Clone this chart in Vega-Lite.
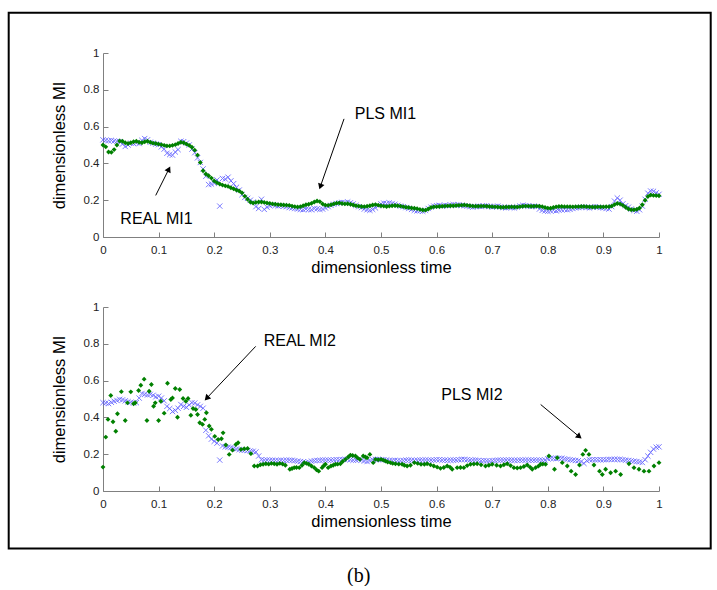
{
  "$schema": "https://vega.github.io/schema/vega-lite/v6.json",
  "background": "white",
  "padding": {"left": 7, "top": 11, "right": 0, "bottom": 0},
  "autosize": {"type": "pad"},
  "bounds": "flush",
  "spacing": 70,
  "config": {
    "view": {"stroke": null},
    "font": "Liberation Sans",
    "axis": {"grid": false, "domainColor": "#808080", "tickColor": "#808080", "tickSize": -5, "labelFont": "Liberation Sans", "labelFontSize": 11.5, "labelColor": "#222222", "titleFont": "Liberation Sans", "titleFontSize": 16.5, "titleFontWeight": "normal", "titleColor": "black", "labelFlush": false, "labelOverlap": false},
    "axisX": {"labelPadding": 12, "titlePadding": 4},
    "axisY": {"labelPadding": 9, "titlePadding": 16}
  },
  "datasets": {
    "border": [{"t": -0.1696, "v": -1.6936, "t2": 1.093, "v2": 1.2186}],
    "caption": [{"t": 0.46, "v": -0.461, "label": "(b)"}],
    "ann1": [{"label": "PLS MI1", "t": 0.508, "v": 0.671}, {"label": "REAL MI1", "t": 0.0962, "v": 0.0998}],
    "arr1": [{"label": "PLS MI1", "t": 0.4335, "v": 0.642, "t2": 0.3909, "v2": 0.274}, {"label": "REAL MI1", "t": 0.0948, "v": 0.226, "t2": 0.1185, "v2": 0.369}],
    "head1": [{"label": "PLS MI1", "t": 0.3909, "v": 0.274}, {"label": "REAL MI1", "t": 0.1185, "v": 0.369}],
    "ann2": [{"label": "REAL MI2", "t": 0.354, "v": 0.813}, {"label": "PLS MI2", "t": 0.6635, "v": 0.52}],
    "arr2": [{"label": "REAL MI2", "t": 0.2746, "v": 0.786, "t2": 0.1865, "v2": 0.504}, {"label": "PLS MI2", "t": 0.7872, "v": 0.47, "t2": 0.8567, "v2": 0.295}],
    "head2": [{"label": "REAL MI2", "t": 0.1865, "v": 0.504}, {"label": "PLS MI2", "t": 0.8567, "v": 0.295}],
    "pls1": [
      {"t":0,"v":0.5},{"t":0.005,"v":0.49},{"t":0.01,"v":0.462},{"t":0.015,"v":0.46},{"t":0.02,"v":0.475},{"t":0.025,"v":0.5},{"t":0.03,"v":0.522},{"t":0.035,"v":0.52},{"t":0.04,"v":0.512},{"t":0.045,"v":0.508},
      {"t":0.05,"v":0.512},{"t":0.055,"v":0.518},{"t":0.06,"v":0.52},{"t":0.065,"v":0.515},{"t":0.07,"v":0.512},{"t":0.075,"v":0.518},{"t":0.08,"v":0.52},{"t":0.085,"v":0.515},{"t":0.09,"v":0.51},{"t":0.095,"v":0.508},
      {"t":0.1,"v":0.505},{"t":0.105,"v":0.502},{"t":0.11,"v":0.498},{"t":0.115,"v":0.495},{"t":0.12,"v":0.495},{"t":0.125,"v":0.498},{"t":0.13,"v":0.502},{"t":0.135,"v":0.508},{"t":0.14,"v":0.515},{"t":0.145,"v":0.512},
      {"t":0.15,"v":0.505},{"t":0.155,"v":0.498},{"t":0.16,"v":0.488},{"t":0.165,"v":0.472},{"t":0.17,"v":0.445},{"t":0.175,"v":0.405},{"t":0.18,"v":0.36},{"t":0.185,"v":0.342},{"t":0.19,"v":0.333},{"t":0.195,"v":0.32},
      {"t":0.2,"v":0.305},{"t":0.205,"v":0.295},{"t":0.21,"v":0.288},{"t":0.215,"v":0.282},{"t":0.22,"v":0.278},{"t":0.225,"v":0.275},{"t":0.23,"v":0.268},{"t":0.235,"v":0.262},{"t":0.24,"v":0.255},{"t":0.245,"v":0.25},
      {"t":0.25,"v":0.24},{"t":0.255,"v":0.222},{"t":0.26,"v":0.205},{"t":0.265,"v":0.19},{"t":0.27,"v":0.185},{"t":0.275,"v":0.188},{"t":0.28,"v":0.19},{"t":0.285,"v":0.19},{"t":0.29,"v":0.188},{"t":0.295,"v":0.185},
      {"t":0.3,"v":0.183},{"t":0.305,"v":0.18},{"t":0.31,"v":0.178},{"t":0.315,"v":0.176},{"t":0.32,"v":0.175},{"t":0.325,"v":0.174},{"t":0.33,"v":0.173},{"t":0.335,"v":0.172},{"t":0.34,"v":0.168},{"t":0.345,"v":0.165},
      {"t":0.35,"v":0.163},{"t":0.355,"v":0.165},{"t":0.36,"v":0.17},{"t":0.365,"v":0.175},{"t":0.37,"v":0.178},{"t":0.375,"v":0.183},{"t":0.38,"v":0.19},{"t":0.385,"v":0.196},{"t":0.39,"v":0.192},{"t":0.395,"v":0.18},
      {"t":0.4,"v":0.173},{"t":0.405,"v":0.172},{"t":0.41,"v":0.175},{"t":0.415,"v":0.18},{"t":0.42,"v":0.184},{"t":0.425,"v":0.185},{"t":0.43,"v":0.182},{"t":0.435,"v":0.18},{"t":0.44,"v":0.181},{"t":0.445,"v":0.178},
      {"t":0.45,"v":0.174},{"t":0.455,"v":0.17},{"t":0.46,"v":0.168},{"t":0.465,"v":0.166},{"t":0.47,"v":0.165},{"t":0.475,"v":0.167},{"t":0.48,"v":0.17},{"t":0.485,"v":0.174},{"t":0.49,"v":0.176},{"t":0.495,"v":0.173},
      {"t":0.5,"v":0.17},{"t":0.505,"v":0.168},{"t":0.51,"v":0.166},{"t":0.515,"v":0.168},{"t":0.52,"v":0.17},{"t":0.525,"v":0.171},{"t":0.53,"v":0.17},{"t":0.535,"v":0.168},{"t":0.54,"v":0.165},{"t":0.545,"v":0.162},
      {"t":0.55,"v":0.16},{"t":0.555,"v":0.158},{"t":0.56,"v":0.156},{"t":0.565,"v":0.154},{"t":0.57,"v":0.15},{"t":0.575,"v":0.147},{"t":0.58,"v":0.146},{"t":0.585,"v":0.152},{"t":0.59,"v":0.16},{"t":0.595,"v":0.164},
      {"t":0.6,"v":0.165},{"t":0.605,"v":0.166},{"t":0.61,"v":0.167},{"t":0.615,"v":0.168},{"t":0.62,"v":0.169},{"t":0.625,"v":0.17},{"t":0.63,"v":0.17},{"t":0.635,"v":0.171},{"t":0.64,"v":0.172},{"t":0.645,"v":0.173},
      {"t":0.65,"v":0.174},{"t":0.655,"v":0.172},{"t":0.66,"v":0.17},{"t":0.665,"v":0.168},{"t":0.67,"v":0.167},{"t":0.675,"v":0.167},{"t":0.68,"v":0.168},{"t":0.685,"v":0.168},{"t":0.69,"v":0.167},{"t":0.695,"v":0.166},
      {"t":0.7,"v":0.165},{"t":0.705,"v":0.164},{"t":0.71,"v":0.163},{"t":0.715,"v":0.162},{"t":0.72,"v":0.162},{"t":0.725,"v":0.163},{"t":0.73,"v":0.163},{"t":0.735,"v":0.164},{"t":0.74,"v":0.163},{"t":0.745,"v":0.163},
      {"t":0.75,"v":0.165},{"t":0.755,"v":0.167},{"t":0.76,"v":0.168},{"t":0.765,"v":0.168},{"t":0.77,"v":0.167},{"t":0.775,"v":0.167},{"t":0.78,"v":0.168},{"t":0.785,"v":0.167},{"t":0.79,"v":0.165},{"t":0.795,"v":0.16},
      {"t":0.8,"v":0.157},{"t":0.805,"v":0.156},{"t":0.81,"v":0.16},{"t":0.815,"v":0.164},{"t":0.82,"v":0.166},{"t":0.825,"v":0.166},{"t":0.83,"v":0.165},{"t":0.835,"v":0.165},{"t":0.84,"v":0.165},{"t":0.845,"v":0.164},
      {"t":0.85,"v":0.165},{"t":0.855,"v":0.165},{"t":0.86,"v":0.166},{"t":0.865,"v":0.166},{"t":0.87,"v":0.165},{"t":0.875,"v":0.164},{"t":0.88,"v":0.163},{"t":0.885,"v":0.163},{"t":0.89,"v":0.164},{"t":0.895,"v":0.164},
      {"t":0.9,"v":0.164},{"t":0.905,"v":0.165},{"t":0.91,"v":0.165},{"t":0.915,"v":0.168},{"t":0.92,"v":0.176},{"t":0.925,"v":0.182},{"t":0.93,"v":0.18},{"t":0.935,"v":0.172},{"t":0.94,"v":0.162},{"t":0.945,"v":0.152},
      {"t":0.95,"v":0.148},{"t":0.955,"v":0.148},{"t":0.96,"v":0.15},{"t":0.965,"v":0.158},{"t":0.97,"v":0.175},{"t":0.975,"v":0.2},{"t":0.98,"v":0.22},{"t":0.985,"v":0.228},{"t":0.99,"v":0.226},{"t":0.995,"v":0.225},{"t":1,"v":0.224}
    ],
    "real1": [
      {"t":0,"v":0.528},{"t":0.005,"v":0.525},{"t":0.01,"v":0.523},{"t":0.015,"v":0.525},{"t":0.02,"v":0.522},{"t":0.025,"v":0.52},{"t":0.03,"v":0.518},{"t":0.035,"v":0.505},{"t":0.04,"v":0.492},{"t":0.045,"v":0.5},
      {"t":0.05,"v":0.51},{"t":0.055,"v":0.508},{"t":0.06,"v":0.512},{"t":0.065,"v":0.508},{"t":0.07,"v":0.525},{"t":0.075,"v":0.535},{"t":0.08,"v":0.528},{"t":0.085,"v":0.515},{"t":0.09,"v":0.51},{"t":0.095,"v":0.505},
      {"t":0.1,"v":0.502},{"t":0.105,"v":0.49},{"t":0.11,"v":0.478},{"t":0.115,"v":0.455},{"t":0.12,"v":0.448},{"t":0.125,"v":0.445},{"t":0.13,"v":0.462},{"t":0.135,"v":0.475},{"t":0.14,"v":0.52},{"t":0.145,"v":0.518},
      {"t":0.15,"v":0.51},{"t":0.155,"v":0.5},{"t":0.16,"v":0.478},{"t":0.165,"v":0.458},{"t":0.17,"v":0.43},{"t":0.175,"v":0.405},{"t":0.18,"v":0.37},{"t":0.185,"v":0.33},{"t":0.19,"v":0.285},{"t":0.195,"v":0.288},
      {"t":0.2,"v":0.292},{"t":0.205,"v":0.31},{"t":0.21,"v":0.168},{"t":0.215,"v":0.318},{"t":0.22,"v":0.315},{"t":0.225,"v":0.325},{"t":0.23,"v":0.305},{"t":0.235,"v":0.29},{"t":0.24,"v":0.27},{"t":0.245,"v":0.255},
      {"t":0.25,"v":0.23},{"t":0.255,"v":0.215},{"t":0.26,"v":0.21},{"t":0.265,"v":0.2},{"t":0.27,"v":0.19},{"t":0.275,"v":0.165},{"t":0.28,"v":0.155},{"t":0.285,"v":0.205},{"t":0.29,"v":0.15},{"t":0.295,"v":0.162},
      {"t":0.3,"v":0.17},{"t":0.305,"v":0.175},{"t":0.31,"v":0.172},{"t":0.315,"v":0.168},{"t":0.32,"v":0.17},{"t":0.325,"v":0.168},{"t":0.33,"v":0.165},{"t":0.335,"v":0.16},{"t":0.34,"v":0.158},{"t":0.345,"v":0.155},
      {"t":0.35,"v":0.152},{"t":0.355,"v":0.15},{"t":0.36,"v":0.148},{"t":0.365,"v":0.152},{"t":0.37,"v":0.15},{"t":0.375,"v":0.148},{"t":0.38,"v":0.155},{"t":0.385,"v":0.153},{"t":0.39,"v":0.15},{"t":0.395,"v":0.152},
      {"t":0.4,"v":0.158},{"t":0.405,"v":0.165},{"t":0.41,"v":0.172},{"t":0.415,"v":0.178},{"t":0.42,"v":0.182},{"t":0.425,"v":0.186},{"t":0.43,"v":0.188},{"t":0.435,"v":0.187},{"t":0.44,"v":0.19},{"t":0.445,"v":0.186},
      {"t":0.45,"v":0.18},{"t":0.455,"v":0.172},{"t":0.46,"v":0.165},{"t":0.465,"v":0.16},{"t":0.47,"v":0.152},{"t":0.475,"v":0.148},{"t":0.48,"v":0.145},{"t":0.485,"v":0.15},{"t":0.49,"v":0.158},{"t":0.495,"v":0.17},
      {"t":0.5,"v":0.18},{"t":0.505,"v":0.184},{"t":0.51,"v":0.182},{"t":0.515,"v":0.185},{"t":0.52,"v":0.182},{"t":0.525,"v":0.178},{"t":0.53,"v":0.172},{"t":0.535,"v":0.168},{"t":0.54,"v":0.165},{"t":0.545,"v":0.16},
      {"t":0.55,"v":0.155},{"t":0.555,"v":0.15},{"t":0.56,"v":0.145},{"t":0.565,"v":0.142},{"t":0.57,"v":0.142},{"t":0.575,"v":0.14},{"t":0.58,"v":0.145},{"t":0.585,"v":0.155},{"t":0.59,"v":0.162},{"t":0.595,"v":0.168},
      {"t":0.6,"v":0.17},{"t":0.605,"v":0.172},{"t":0.61,"v":0.168},{"t":0.615,"v":0.172},{"t":0.62,"v":0.17},{"t":0.625,"v":0.174},{"t":0.63,"v":0.176},{"t":0.635,"v":0.172},{"t":0.64,"v":0.175},{"t":0.645,"v":0.172},
      {"t":0.65,"v":0.17},{"t":0.655,"v":0.168},{"t":0.66,"v":0.165},{"t":0.665,"v":0.162},{"t":0.67,"v":0.166},{"t":0.675,"v":0.168},{"t":0.68,"v":0.165},{"t":0.685,"v":0.168},{"t":0.69,"v":0.17},{"t":0.695,"v":0.166},
      {"t":0.7,"v":0.162},{"t":0.705,"v":0.166},{"t":0.71,"v":0.168},{"t":0.715,"v":0.164},{"t":0.72,"v":0.16},{"t":0.725,"v":0.158},{"t":0.73,"v":0.162},{"t":0.735,"v":0.16},{"t":0.74,"v":0.158},{"t":0.745,"v":0.163},
      {"t":0.75,"v":0.168},{"t":0.755,"v":0.172},{"t":0.76,"v":0.17},{"t":0.765,"v":0.168},{"t":0.77,"v":0.166},{"t":0.775,"v":0.168},{"t":0.78,"v":0.165},{"t":0.785,"v":0.152},{"t":0.79,"v":0.145},{"t":0.795,"v":0.142},
      {"t":0.8,"v":0.14},{"t":0.805,"v":0.142},{"t":0.81,"v":0.145},{"t":0.815,"v":0.142},{"t":0.82,"v":0.146},{"t":0.825,"v":0.148},{"t":0.83,"v":0.15},{"t":0.835,"v":0.148},{"t":0.84,"v":0.15},{"t":0.845,"v":0.155},
      {"t":0.85,"v":0.158},{"t":0.855,"v":0.16},{"t":0.86,"v":0.162},{"t":0.865,"v":0.164},{"t":0.87,"v":0.16},{"t":0.875,"v":0.158},{"t":0.88,"v":0.162},{"t":0.885,"v":0.165},{"t":0.89,"v":0.162},{"t":0.895,"v":0.16},
      {"t":0.9,"v":0.158},{"t":0.905,"v":0.155},{"t":0.91,"v":0.152},{"t":0.915,"v":0.165},{"t":0.92,"v":0.195},{"t":0.925,"v":0.212},{"t":0.93,"v":0.2},{"t":0.935,"v":0.18},{"t":0.94,"v":0.17},{"t":0.945,"v":0.162},
      {"t":0.95,"v":0.152},{"t":0.955,"v":0.145},{"t":0.96,"v":0.14},{"t":0.965,"v":0.148},{"t":0.97,"v":0.168},{"t":0.975,"v":0.205},{"t":0.98,"v":0.238},{"t":0.985,"v":0.25},{"t":0.99,"v":0.248},{"t":0.995,"v":0.24},{"t":1,"v":0.232}
    ],
    "real2": [
      {"t":0,"v":0.48},{"t":0.005,"v":0.478},{"t":0.01,"v":0.475},{"t":0.015,"v":0.482},{"t":0.02,"v":0.488},{"t":0.025,"v":0.492},{"t":0.03,"v":0.498},{"t":0.035,"v":0.495},{"t":0.04,"v":0.49},{"t":0.045,"v":0.485},
      {"t":0.05,"v":0.482},{"t":0.055,"v":0.478},{"t":0.06,"v":0.48},{"t":0.065,"v":0.505},{"t":0.07,"v":0.53},{"t":0.075,"v":0.525},{"t":0.08,"v":0.522},{"t":0.085,"v":0.525},{"t":0.09,"v":0.52},{"t":0.095,"v":0.512},
      {"t":0.1,"v":0.515},{"t":0.105,"v":0.505},{"t":0.11,"v":0.49},{"t":0.115,"v":0.46},{"t":0.12,"v":0.448},{"t":0.125,"v":0.432},{"t":0.13,"v":0.438},{"t":0.135,"v":0.45},{"t":0.14,"v":0.47},{"t":0.145,"v":0.46},
      {"t":0.15,"v":0.455},{"t":0.155,"v":0.468},{"t":0.16,"v":0.48},{"t":0.165,"v":0.478},{"t":0.17,"v":0.468},{"t":0.175,"v":0.46},{"t":0.18,"v":0.45},{"t":0.185,"v":0.33},{"t":0.19,"v":0.3},{"t":0.195,"v":0.282},
      {"t":0.2,"v":0.27},{"t":0.205,"v":0.26},{"t":0.21,"v":0.168},{"t":0.215,"v":0.245},{"t":0.22,"v":0.24},{"t":0.225,"v":0.238},{"t":0.23,"v":0.236},{"t":0.235,"v":0.232},{"t":0.24,"v":0.228},{"t":0.245,"v":0.225},
      {"t":0.25,"v":0.222},{"t":0.255,"v":0.222},{"t":0.26,"v":0.22},{"t":0.265,"v":0.218},{"t":0.27,"v":0.216},{"t":0.275,"v":0.212},{"t":0.28,"v":0.19},{"t":0.285,"v":0.17},{"t":0.29,"v":0.168},{"t":0.295,"v":0.168},
      {"t":0.3,"v":0.167},{"t":0.305,"v":0.167},{"t":0.31,"v":0.166},{"t":0.315,"v":0.166},{"t":0.32,"v":0.167},{"t":0.325,"v":0.166},{"t":0.33,"v":0.167},{"t":0.335,"v":0.168},{"t":0.34,"v":0.167},{"t":0.345,"v":0.165},
      {"t":0.35,"v":0.162},{"t":0.355,"v":0.16},{"t":0.36,"v":0.158},{"t":0.365,"v":0.155},{"t":0.37,"v":0.157},{"t":0.375,"v":0.162},{"t":0.38,"v":0.165},{"t":0.385,"v":0.166},{"t":0.39,"v":0.167},{"t":0.395,"v":0.168},
      {"t":0.4,"v":0.168},{"t":0.405,"v":0.168},{"t":0.41,"v":0.168},{"t":0.415,"v":0.169},{"t":0.42,"v":0.17},{"t":0.425,"v":0.17},{"t":0.43,"v":0.171},{"t":0.435,"v":0.172},{"t":0.44,"v":0.172},{"t":0.445,"v":0.17},
      {"t":0.45,"v":0.168},{"t":0.455,"v":0.168},{"t":0.46,"v":0.17},{"t":0.465,"v":0.168},{"t":0.47,"v":0.163},{"t":0.475,"v":0.16},{"t":0.48,"v":0.165},{"t":0.485,"v":0.17},{"t":0.49,"v":0.172},{"t":0.495,"v":0.172},
      {"t":0.5,"v":0.17},{"t":0.505,"v":0.17},{"t":0.51,"v":0.168},{"t":0.515,"v":0.166},{"t":0.52,"v":0.166},{"t":0.525,"v":0.167},{"t":0.53,"v":0.165},{"t":0.535,"v":0.164},{"t":0.54,"v":0.166},{"t":0.545,"v":0.168},
      {"t":0.55,"v":0.168},{"t":0.555,"v":0.167},{"t":0.56,"v":0.166},{"t":0.565,"v":0.167},{"t":0.57,"v":0.168},{"t":0.575,"v":0.168},{"t":0.58,"v":0.168},{"t":0.585,"v":0.168},{"t":0.59,"v":0.168},{"t":0.595,"v":0.168},
      {"t":0.6,"v":0.17},{"t":0.605,"v":0.17},{"t":0.61,"v":0.168},{"t":0.615,"v":0.168},{"t":0.62,"v":0.167},{"t":0.625,"v":0.168},{"t":0.63,"v":0.168},{"t":0.635,"v":0.168},{"t":0.64,"v":0.17},{"t":0.645,"v":0.172},
      {"t":0.65,"v":0.172},{"t":0.655,"v":0.17},{"t":0.66,"v":0.168},{"t":0.665,"v":0.168},{"t":0.67,"v":0.168},{"t":0.675,"v":0.166},{"t":0.68,"v":0.164},{"t":0.685,"v":0.165},{"t":0.69,"v":0.164},{"t":0.695,"v":0.163},
      {"t":0.7,"v":0.165},{"t":0.705,"v":0.166},{"t":0.71,"v":0.168},{"t":0.715,"v":0.168},{"t":0.72,"v":0.168},{"t":0.725,"v":0.168},{"t":0.73,"v":0.168},{"t":0.735,"v":0.168},{"t":0.74,"v":0.167},{"t":0.745,"v":0.167},
      {"t":0.75,"v":0.168},{"t":0.755,"v":0.168},{"t":0.76,"v":0.168},{"t":0.765,"v":0.168},{"t":0.77,"v":0.168},{"t":0.775,"v":0.168},{"t":0.78,"v":0.168},{"t":0.785,"v":0.168},{"t":0.79,"v":0.167},{"t":0.795,"v":0.168},
      {"t":0.8,"v":0.175},{"t":0.805,"v":0.178},{"t":0.81,"v":0.177},{"t":0.815,"v":0.176},{"t":0.82,"v":0.178},{"t":0.825,"v":0.178},{"t":0.83,"v":0.175},{"t":0.835,"v":0.172},{"t":0.84,"v":0.17},{"t":0.845,"v":0.168},
      {"t":0.85,"v":0.166},{"t":0.855,"v":0.165},{"t":0.86,"v":0.16},{"t":0.865,"v":0.15},{"t":0.87,"v":0.165},{"t":0.875,"v":0.17},{"t":0.88,"v":0.17},{"t":0.885,"v":0.17},{"t":0.89,"v":0.17},{"t":0.895,"v":0.17},
      {"t":0.9,"v":0.17},{"t":0.905,"v":0.17},{"t":0.91,"v":0.172},{"t":0.915,"v":0.172},{"t":0.92,"v":0.172},{"t":0.925,"v":0.172},{"t":0.93,"v":0.172},{"t":0.935,"v":0.17},{"t":0.94,"v":0.168},{"t":0.945,"v":0.166},
      {"t":0.95,"v":0.164},{"t":0.955,"v":0.162},{"t":0.96,"v":0.16},{"t":0.965,"v":0.158},{"t":0.97,"v":0.155},{"t":0.975,"v":0.17},{"t":0.98,"v":0.19},{"t":0.985,"v":0.21},{"t":0.99,"v":0.228},{"t":0.995,"v":0.238},{"t":1,"v":0.24}
    ],
    "pls2": [
      {"t":0,"v":0.13},{"t":0.005,"v":0.293},{"t":0.009,"v":0.389},{"t":0.014,"v":0.519},{"t":0.018,"v":0.376},{"t":0.023,"v":0.325},{"t":0.026,"v":0.42},{"t":0.033,"v":0.54},{"t":0.04,"v":0.383},{"t":0.044,"v":0.479},
      {"t":0.05,"v":0.539},{"t":0.055,"v":0.474},{"t":0.058,"v":0.48},{"t":0.064,"v":0.546},{"t":0.068,"v":0.575},{"t":0.074,"v":0.608},{"t":0.079,"v":0.383},{"t":0.083,"v":0.542},{"t":0.087,"v":0.579},{"t":0.091,"v":0.461},
      {"t":0.094,"v":0.479},{"t":0.1,"v":0.383},{"t":0.104,"v":0.488},{"t":0.11,"v":0.423},{"t":0.116,"v":0.586},{"t":0.122,"v":0.497},{"t":0.125,"v":0.506},{"t":0.13,"v":0.557},{"t":0.134,"v":0.401},{"t":0.138,"v":0.552},
      {"t":0.144,"v":0.503},{"t":0.149,"v":0.488},{"t":0.153,"v":0.503},{"t":0.158,"v":0.412},{"t":0.162,"v":0.448},{"t":0.167,"v":0.443},{"t":0.17,"v":0.416},{"t":0.174,"v":0.371},{"t":0.179,"v":0.362},{"t":0.183,"v":0.389},
      {"t":0.186,"v":0.425},{"t":0.191,"v":0.353},{"t":0.195,"v":0.335},{"t":0.201,"v":0.297},{"t":0.207,"v":0.28},{"t":0.213,"v":0.284},{"t":0.216,"v":0.316},{"t":0.221,"v":0.25},{"t":0.227,"v":0.199},{"t":0.233,"v":0.222},
      {"t":0.239,"v":0.253},{"t":0.243,"v":0.262},{"t":0.248,"v":0.226},{"t":0.254,"v":0.23},{"t":0.26,"v":0.231},{"t":0.266,"v":0.203},{"t":0.272,"v":0.136},{"t":0.278,"v":0.136},{"t":0.283,"v":0.143},{"t":0.288,"v":0.145},
      {"t":0.293,"v":0.148},{"t":0.298,"v":0.146},{"t":0.303,"v":0.15},{"t":0.308,"v":0.148},{"t":0.313,"v":0.145},{"t":0.318,"v":0.15},{"t":0.323,"v":0.147},{"t":0.328,"v":0.14},{"t":0.336,"v":0.118},{"t":0.34,"v":0.122},
      {"t":0.344,"v":0.127},{"t":0.348,"v":0.128},{"t":0.353,"v":0.127},{"t":0.358,"v":0.14},{"t":0.362,"v":0.154},{"t":0.366,"v":0.15},{"t":0.37,"v":0.145},{"t":0.375,"v":0.136},{"t":0.38,"v":0.127},{"t":0.384,"v":0.115},
      {"t":0.388,"v":0.108},{"t":0.394,"v":0.127},{"t":0.397,"v":0.137},{"t":0.4,"v":0.145},{"t":0.405,"v":0.127},{"t":0.41,"v":0.136},{"t":0.414,"v":0.14},{"t":0.418,"v":0.145},{"t":0.422,"v":0.146},{"t":0.427,"v":0.148},
      {"t":0.431,"v":0.16},{"t":0.436,"v":0.172},{"t":0.441,"v":0.185},{"t":0.445,"v":0.195},{"t":0.449,"v":0.193},{"t":0.454,"v":0.19},{"t":0.458,"v":0.18},{"t":0.462,"v":0.172},{"t":0.468,"v":0.19},{"t":0.472,"v":0.185},
      {"t":0.475,"v":0.181},{"t":0.48,"v":0.199},{"t":0.486,"v":0.154},{"t":0.49,"v":0.172},{"t":0.495,"v":0.17},{"t":0.5,"v":0.172},{"t":0.504,"v":0.168},{"t":0.508,"v":0.163},{"t":0.512,"v":0.158},{"t":0.517,"v":0.154},
      {"t":0.521,"v":0.15},{"t":0.526,"v":0.148},{"t":0.532,"v":0.146},{"t":0.538,"v":0.145},{"t":0.542,"v":0.14},{"t":0.547,"v":0.136},{"t":0.553,"v":0.14},{"t":0.56,"v":0.154},{"t":0.566,"v":0.15},{"t":0.572,"v":0.145},
      {"t":0.578,"v":0.145},{"t":0.583,"v":0.148},{"t":0.589,"v":0.142},{"t":0.595,"v":0.136},{"t":0.601,"v":0.13},{"t":0.607,"v":0.123},{"t":0.613,"v":0.128},{"t":0.619,"v":0.136},{"t":0.624,"v":0.13},{"t":0.628,"v":0.118},
      {"t":0.637,"v":0.127},{"t":0.643,"v":0.128},{"t":0.649,"v":0.127},{"t":0.655,"v":0.138},{"t":0.661,"v":0.145},{"t":0.667,"v":0.147},{"t":0.673,"v":0.148},{"t":0.68,"v":0.142},{"t":0.688,"v":0.136},{"t":0.694,"v":0.14},
      {"t":0.7,"v":0.145},{"t":0.708,"v":0.14},{"t":0.715,"v":0.136},{"t":0.721,"v":0.143},{"t":0.727,"v":0.148},{"t":0.733,"v":0.138},{"t":0.739,"v":0.127},{"t":0.745,"v":0.125},{"t":0.751,"v":0.127},{"t":0.757,"v":0.133},
      {"t":0.763,"v":0.141},{"t":0.768,"v":0.13},{"t":0.772,"v":0.118},{"t":0.778,"v":0.127},{"t":0.783,"v":0.135},{"t":0.787,"v":0.145},{"t":0.791,"v":0.147},{"t":0.796,"v":0.145},{"t":0.802,"v":0.19},{"t":0.812,"v":0.118},
      {"t":0.817,"v":0.181},{"t":0.826,"v":0.154},{"t":0.835,"v":0.136},{"t":0.842,"v":0.108},{"t":0.85,"v":0.09},{"t":0.857,"v":0.141},{"t":0.863,"v":0.199},{"t":0.868,"v":0.221},{"t":0.874,"v":0.199},{"t":0.883,"v":0.141},
      {"t":0.893,"v":0.108},{"t":0.898,"v":0.09},{"t":0.904,"v":0.118},{"t":0.913,"v":0.099},{"t":0.922,"v":0.108},{"t":0.931,"v":0.09},{"t":0.946,"v":0.148},{"t":0.955,"v":0.127},{"t":0.964,"v":0.118},{"t":0.973,"v":0.108},
      {"t":0.982,"v":0.108},{"t":0.991,"v":0.136},{"t":1,"v":0.154}
    ]
  },
  "vconcat": [
    {
      "width": 556,
      "height": 184,
      "encoding": {
        "x": {"field": "t", "type": "quantitative", "scale": {"domain": [0, 1], "nice": false, "zero": false}, "axis": {"title": "dimensionless time", "values": [0, 0.1, 0.2, 0.3, 0.4, 0.5, 0.6, 0.7, 0.8, 0.9, 1], "format": "~g"}},
        "y": {"field": "v", "type": "quantitative", "scale": {"domain": [0, 1], "nice": false, "zero": false}, "axis": {"title": "dimensionless MI", "values": [0, 0.2, 0.4, 0.6, 0.8, 1], "format": "~g"}}
      },
      "layer": [
        {"data": {"name": "border"}, "mark": {"type": "rect", "fillOpacity": 0, "stroke": "black", "strokeWidth": 2, "clip": false}, "encoding": {"x2": {"field": "t2"}, "y2": {"field": "v2"}}},
        {"data": {"name": "real1"}, "mark": {"type": "point", "shape": "M-1,-1L1,1M-1,1L1,-1", "filled": false, "size": 28, "strokeWidth": 1, "color": "#5a5aff", "opacity": 0.8}},
        {"data": {"name": "pls1"}, "mark": {"type": "point", "shape": "diamond", "filled": true, "size": 24, "color": "#008000", "opacity": 1}},
        {"data": {"name": "arr1"}, "mark": {"type": "rule", "color": "black", "strokeWidth": 1}, "encoding": {"x2": {"field": "t2"}, "y2": {"field": "v2"}}},
        {"data": {"name": "head1"}, "transform": [{"filter": "datum.label == 'PLS MI1'"}], "mark": {"type": "point", "shape": "triangle-up", "filled": true, "size": 45, "color": "black", "opacity": 1, "angle": 199}},
        {"data": {"name": "head1"}, "transform": [{"filter": "datum.label == 'REAL MI1'"}], "mark": {"type": "point", "shape": "triangle-up", "filled": true, "size": 45, "color": "black", "opacity": 1, "angle": 27}},
        {"data": {"name": "ann1"}, "mark": {"type": "text", "fontSize": 16, "font": "Liberation Sans", "color": "black", "align": "center", "baseline": "middle"}, "encoding": {"text": {"field": "label"}}}
      ]
    },
    {
      "width": 556,
      "height": 184,
      "encoding": {
        "x": {"field": "t", "type": "quantitative", "scale": {"domain": [0, 1], "nice": false, "zero": false}, "axis": {"title": "dimensionless time", "values": [0, 0.1, 0.2, 0.3, 0.4, 0.5, 0.6, 0.7, 0.8, 0.9, 1], "format": "~g"}},
        "y": {"field": "v", "type": "quantitative", "scale": {"domain": [0, 1], "nice": false, "zero": false}, "axis": {"title": "dimensionless MI", "values": [0, 0.2, 0.4, 0.6, 0.8, 1], "format": "~g"}}
      },
      "layer": [
        {"data": {"name": "real2"}, "mark": {"type": "point", "shape": "M-1,-1L1,1M-1,1L1,-1", "filled": false, "size": 28, "strokeWidth": 1, "color": "#5a5aff", "opacity": 0.8}},
        {"data": {"name": "pls2"}, "mark": {"type": "point", "shape": "diamond", "filled": true, "size": 24, "color": "#008000", "opacity": 1}},
        {"data": {"name": "arr2"}, "mark": {"type": "rule", "color": "black", "strokeWidth": 1}, "encoding": {"x2": {"field": "t2"}, "y2": {"field": "v2"}}},
        {"data": {"name": "head2"}, "transform": [{"filter": "datum.label == 'REAL MI2'"}], "mark": {"type": "point", "shape": "triangle-up", "filled": true, "size": 45, "color": "black", "opacity": 1, "angle": 223}},
        {"data": {"name": "head2"}, "transform": [{"filter": "datum.label == 'PLS MI2'"}], "mark": {"type": "point", "shape": "triangle-up", "filled": true, "size": 45, "color": "black", "opacity": 1, "angle": 130}},
        {"data": {"name": "ann2"}, "mark": {"type": "text", "fontSize": 16, "font": "Liberation Sans", "color": "black", "align": "center", "baseline": "middle"}, "encoding": {"text": {"field": "label"}}},
        {"data": {"name": "caption"}, "mark": {"type": "text", "fontSize": 20, "font": "Liberation Serif", "color": "black", "align": "center", "baseline": "middle", "clip": false}, "encoding": {"text": {"field": "label"}}}
      ]
    }
  ]
}
